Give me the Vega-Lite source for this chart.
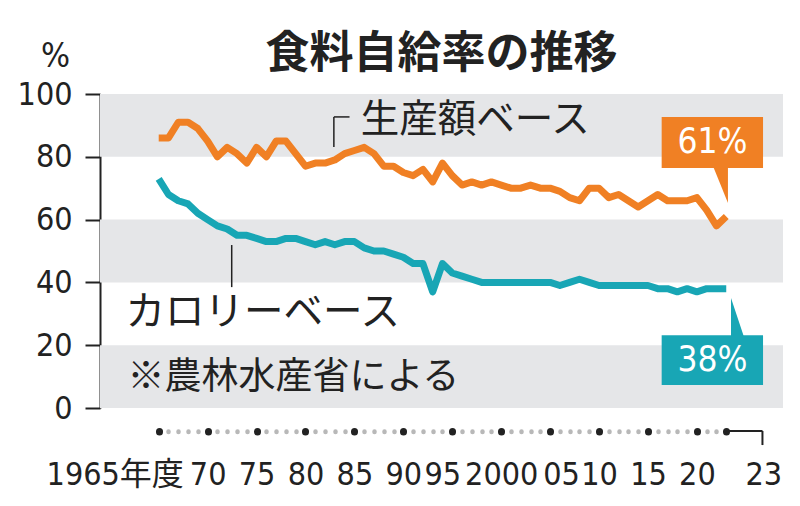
{
  "$schema": "https://vega.github.io/schema/vega-lite/v6.json",
  "width": 683,
  "height": 314,
  "autosize": "none",
  "padding": {"left": 100, "top": 94, "right": 17, "bottom": 98},
  "background": "white",
  "config": {"view": {"stroke": null}, "font": "Noto Sans CJK JP"},
  "title": {"text": "食料自給率の推移", "font": "Noto Sans CJK JP", "fontSize": 44, "fontWeight": "bold", "color": "#222222", "anchor": "middle", "baseline": "alphabetic", "offset": -73},
  "datasets": {
    "rates": [
      {"year": 1965, "calorie": 73, "production": 86},
      {"year": 1966, "calorie": 68, "production": 86},
      {"year": 1967, "calorie": 66, "production": 91},
      {"year": 1968, "calorie": 65, "production": 91},
      {"year": 1969, "calorie": 62, "production": 89},
      {"year": 1970, "calorie": 60, "production": 85},
      {"year": 1971, "calorie": 58, "production": 80},
      {"year": 1972, "calorie": 57, "production": 83},
      {"year": 1973, "calorie": 55, "production": 81},
      {"year": 1974, "calorie": 55, "production": 78},
      {"year": 1975, "calorie": 54, "production": 83},
      {"year": 1976, "calorie": 53, "production": 80},
      {"year": 1977, "calorie": 53, "production": 85},
      {"year": 1978, "calorie": 54, "production": 85},
      {"year": 1979, "calorie": 54, "production": 81},
      {"year": 1980, "calorie": 53, "production": 77},
      {"year": 1981, "calorie": 52, "production": 78},
      {"year": 1982, "calorie": 53, "production": 78},
      {"year": 1983, "calorie": 52, "production": 79},
      {"year": 1984, "calorie": 53, "production": 81},
      {"year": 1985, "calorie": 53, "production": 82},
      {"year": 1986, "calorie": 51, "production": 83},
      {"year": 1987, "calorie": 50, "production": 81},
      {"year": 1988, "calorie": 50, "production": 77},
      {"year": 1989, "calorie": 49, "production": 77},
      {"year": 1990, "calorie": 48, "production": 75},
      {"year": 1991, "calorie": 46, "production": 74},
      {"year": 1992, "calorie": 46, "production": 76},
      {"year": 1993, "calorie": 37, "production": 72},
      {"year": 1994, "calorie": 46, "production": 78},
      {"year": 1995, "calorie": 43, "production": 74},
      {"year": 1996, "calorie": 42, "production": 71},
      {"year": 1997, "calorie": 41, "production": 72},
      {"year": 1998, "calorie": 40, "production": 71},
      {"year": 1999, "calorie": 40, "production": 72},
      {"year": 2000, "calorie": 40, "production": 71},
      {"year": 2001, "calorie": 40, "production": 70},
      {"year": 2002, "calorie": 40, "production": 70},
      {"year": 2003, "calorie": 40, "production": 71},
      {"year": 2004, "calorie": 40, "production": 70},
      {"year": 2005, "calorie": 40, "production": 70},
      {"year": 2006, "calorie": 39, "production": 69},
      {"year": 2007, "calorie": 40, "production": 67},
      {"year": 2008, "calorie": 41, "production": 66},
      {"year": 2009, "calorie": 40, "production": 70},
      {"year": 2010, "calorie": 39, "production": 70},
      {"year": 2011, "calorie": 39, "production": 67},
      {"year": 2012, "calorie": 39, "production": 68},
      {"year": 2013, "calorie": 39, "production": 66},
      {"year": 2014, "calorie": 39, "production": 64},
      {"year": 2015, "calorie": 39, "production": 66},
      {"year": 2016, "calorie": 38, "production": 68},
      {"year": 2017, "calorie": 38, "production": 66},
      {"year": 2018, "calorie": 37, "production": 66},
      {"year": 2019, "calorie": 38, "production": 66},
      {"year": 2020, "calorie": 37, "production": 67},
      {"year": 2021, "calorie": 38, "production": 63},
      {"year": 2022, "calorie": 38, "production": 58},
      {"year": 2023, "calorie": 38, "production": 61}
    ]
  },
  "layer": [
    {
      "data": {"values": [{"lo": 80, "hi": 100}, {"lo": 40, "hi": 60}, {"lo": 0, "hi": 20}]},
      "mark": {"type": "rect", "color": "#E5E6E8"},
      "encoding": {
        "x": {
          "datum": 1959, "type": "quantitative",
          "scale": {"domain": [1959, 2028.8], "nice": false, "zero": false},
          "axis": {
            "title": null, "orient": "bottom", "offset": 23, "domain": false, "grid": false,
            "values": [1965,1966,1967,1968,1969,1970,1971,1972,1973,1974,1975,1976,1977,1978,1979,1980,1981,1982,1983,1984,1985,1986,1987,1988,1989,1990,1991,1992,1993,1994,1995,1996,1997,1998,1999,2000,2001,2002,2003,2004,2005,2006,2007,2008,2009,2010,2011,2012,2013,2014,2015,2016,2017,2018,2019,2020,2021,2022,2023],
            "tickCount": 200,
            "tickSize": 0.5, "tickCap": "round",
            "tickWidth": {"condition": {"test": "datum.value % 5 == 0 || datum.value == 2023", "value": 7}, "value": 4.5},
            "tickColor": {"condition": {"test": "datum.value % 5 == 0 || datum.value == 2023", "value": "#222222"}, "value": "#b8b8b8"},
            "labelExpr": "datum.value == 1965 ? '1965年度' : datum.value == 2000 ? '2000' : datum.value == 2023 ? '23' : (datum.value % 5 == 0 ? slice(toString(datum.value), 2) : '')",
            "labelFont": "Liberation Sans Narrow, DejaVu Sans Condensed, Noto Sans CJK JP",
            "labelFontSize": 32, "labelColor": "#222222", "labelPadding": 53, "labelBaseline": "alphabetic",
            "labelOverlap": false, "labelFlush": false, "labelBound": false,
            "labelOffset": {"condition": [
              {"test": "datum.value == 1965", "value": -44},
              {"test": "datum.value == 1995", "value": -10},
              {"test": "datum.value == 2000", "value": 0},
              {"test": "datum.value == 2005", "value": 11},
              {"test": "datum.value == 2023", "value": 37}
            ], "value": 0}
          }
        },
        "x2": {"datum": 2028.8},
        "y": {
          "field": "lo", "type": "quantitative",
          "scale": {"domain": [0, 100], "nice": false},
          "axis": {
            "title": "%", "titleAngle": 0, "titleFont": "Liberation Sans Narrow, DejaVu Sans Condensed, sans-serif", "titleFontSize": 34, "titleFontWeight": "normal", "titleColor": "#222222",
            "titleX": -45, "titleY": -38, "titleAlign": "center", "titleBaseline": "middle",
            "values": [0, 20, 40, 60, 80, 100], "grid": false,
            "domainColor": "#222222", "domainWidth": 2, "tickColor": "#222222", "tickWidth": 2, "tickSize": 15,
            "labelPadding": 13, "labelFontSize": 32, "labelColor": "#222222",
            "labelFont": "Liberation Sans Narrow, DejaVu Sans Condensed, sans-serif"
          }
        },
        "y2": {"field": "hi"}
      }
    },
    {
      "data": {"name": "rates"},
      "transform": [{"fold": ["production", "calorie"], "as": ["series", "value"]}],
      "mark": {"type": "line", "strokeWidth": 7, "strokeJoin": "round", "strokeCap": "butt"},
      "encoding": {
        "x": {"field": "year", "type": "quantitative"},
        "y": {"field": "value", "type": "quantitative"},
        "color": {"field": "series", "type": "nominal", "scale": {"domain": ["production", "calorie"], "range": ["#F08024", "#18A6B5"]}, "legend": null}
      }
    },
    {
      "data": {"values": [{"label": "generated"}]},
      "mark": {"type": "rule", "color": "#222222", "strokeWidth": 1.5},
      "encoding": {"x": {"datum": 1982.9}, "y": {"datum": 92.7}, "y2": {"datum": 83.1}}
    },
    {
      "data": {"values": [{"label": "generated"}]},
      "mark": {"type": "rule", "color": "#222222", "strokeWidth": 1.5},
      "encoding": {"x": {"datum": 1982.9}, "x2": {"datum": 1984.5}, "y": {"datum": 92.7}}
    },
    {
      "data": {"values": [{"label": "generated"}]},
      "mark": {"type": "rule", "color": "#222222", "strokeWidth": 1.5},
      "encoding": {"x": {"datum": 1972.46}, "y": {"datum": 51.9}, "y2": {"datum": 38.5}}
    },
    {
      "data": {"values": [{"label": "generated"}]},
      "mark": {"type": "rule", "color": "#222222", "strokeWidth": 2},
      "encoding": {"x": {"datum": 2023}, "x2": {"datum": 2026.7}, "y": {"datum": -7.3}}
    },
    {
      "data": {"values": [{"label": "generated"}]},
      "mark": {"type": "rule", "color": "#222222", "strokeWidth": 2},
      "encoding": {"x": {"datum": 2026.7}, "y": {"datum": -7.3}, "y2": {"datum": -11.8}}
    },
    {
      "data": {"values": [{"label": "生産額ベース"}]},
      "mark": {"type": "text", "align": "left", "baseline": "middle", "fontSize": 38.5, "font": "Noto Sans CJK JP", "color": "#222222"},
      "encoding": {"x": {"datum": 1985.65}, "y": {"datum": 91.7}, "text": {"field": "label"}}
    },
    {
      "data": {"values": [{"label": "カロリーベース"}]},
      "mark": {"type": "text", "align": "left", "baseline": "middle", "fontSize": 39.5, "font": "Noto Sans CJK JP", "color": "#222222"},
      "encoding": {"x": {"datum": 1961.6}, "y": {"datum": 30.3}, "text": {"field": "label"}}
    },
    {
      "data": {"values": [{"label": "※農林水産省による"}]},
      "mark": {"type": "text", "align": "left", "baseline": "middle", "fontSize": 37, "font": "Noto Sans CJK JP", "color": "#222222"},
      "encoding": {"x": {"datum": 1961.8}, "y": {"datum": 9.6}, "text": {"field": "label"}}
    },
    {
      "data": {"values": [{"label": "production"}]},
      "mark": {"type": "rect", "color": "#F08024"},
      "encoding": {"x": {"datum": 2016.4}, "x2": {"datum": 2026.76}, "y": {"datum": 92.7}, "y2": {"datum": 76.4}}
    },
    {
      "data": {"values": [{"label": "production"}]},
      "mark": {"type": "point", "shape": "M-0.444,-1.056L0.389,-1.056L0.389,1Z", "filled": true, "size": 1296, "color": "#F08024", "opacity": 1, "strokeWidth": 0},
      "encoding": {"x": {"datum": 2022.46}, "y": {"datum": 71.0}}
    },
    {
      "data": {"values": [{"label": "calorie"}]},
      "mark": {"type": "rect", "color": "#18A6B5"},
      "encoding": {"x": {"datum": 2016.4}, "x2": {"datum": 2026.76}, "y": {"datum": 23.2}, "y2": {"datum": 7.3}}
    },
    {
      "data": {"values": [{"label": "calorie"}]},
      "mark": {"type": "point", "shape": "M-0.316,-1L-0.316,1.05L0.368,1.05Z", "filled": true, "size": 1444, "color": "#18A6B5", "opacity": 1, "strokeWidth": 0},
      "encoding": {"x": {"datum": 2024.1}, "y": {"datum": 29.0}}
    },
    {
      "data": {"values": [{"label": "61%"}]},
      "mark": {"type": "text", "align": "center", "baseline": "middle", "fontSize": 35, "font": "Liberation Sans Narrow, DejaVu Sans Condensed, sans-serif", "color": "white"},
      "encoding": {"x": {"datum": 2021.6}, "y": {"datum": 84.7}, "text": {"field": "label"}}
    },
    {
      "data": {"values": [{"label": "38%"}]},
      "mark": {"type": "text", "align": "center", "baseline": "middle", "fontSize": 35, "font": "Liberation Sans Narrow, DejaVu Sans Condensed, sans-serif", "color": "white"},
      "encoding": {"x": {"datum": 2021.6}, "y": {"datum": 15.3}, "text": {"field": "label"}}
    }
  ]
}
